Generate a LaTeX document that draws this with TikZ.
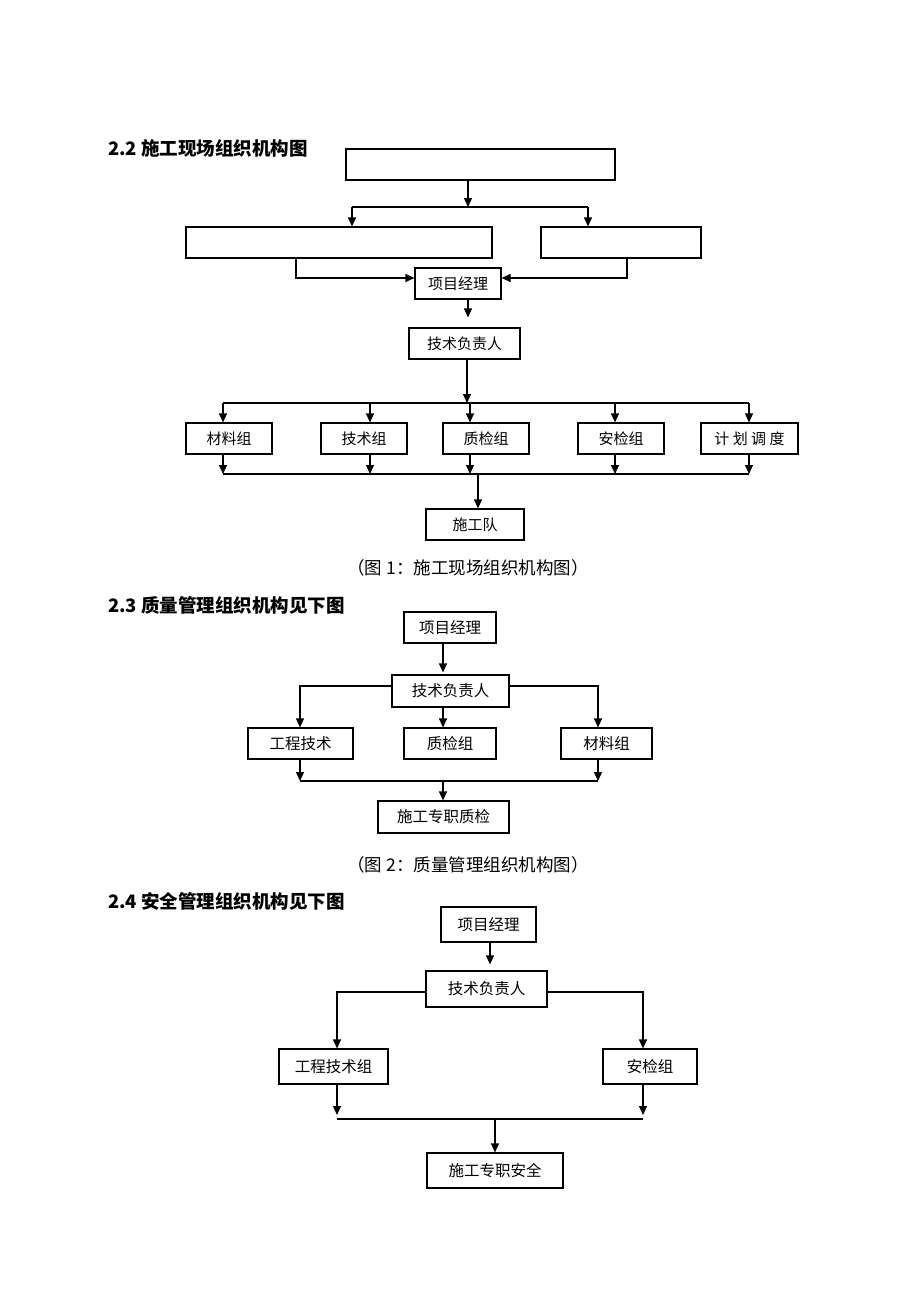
\documentclass[tikz,border=0pt]{standalone}
\usepackage{fontspec}
\setmainfont{Noto Sans CJK SC}
\usetikzlibrary{arrows.meta, calc, positioning}
\tikzset{>={Triangle[length=9pt,width=8pt]}}
\tikzset{
	box/.style={draw, line width=1.2pt, inner sep=0pt, minimum height=31, font=\fontsize{15.5}{18}\selectfont},
	link/.style={line width=1.2pt},
	arr/.style={line width=1.2pt, ->},
	heading/.style={anchor=west, inner sep=0pt, font=\bfseries\fontsize{18.5}{21}\selectfont},
	caption/.style={inner sep=0pt, font=\fontsize{17.5}{20}\selectfont}
}

\begin{document}
\begin{tikzpicture}[x=1pt, y=-1pt]
			\useasboundingbox (0,0) rectangle (920,1302);
			% 2.2
			\node [heading] (h1) at (108,148) {2.2 施工现场组织机构图};
			\node [box, minimum width=269] (top) at (480.5,164.5) {};
			\node [box, minimum width=306] (lbox) at (339,242.5) {};
			\node [box, minimum width=160] (rbox) at (621,242.5) {};
			\node [box, minimum width=86, font=\fontsize{15}{17}\selectfont] (pm1) at (458,283.5) {项目经理};
			\node [box, minimum width=111, font=\fontsize{15}{17}\selectfont] (tech1) at (464.5,343.5) {技术负责人};
			\coordinate (s1) at (468,207);
			\coordinate (s1l) at (352,207);
			\coordinate (s1r) at (588,207);
			\draw [arr] (s1 |- top.south) -- (s1);
			\draw [link] (s1l) -- (s1r);
			\draw [arr] (s1l) -- (s1l |- lbox.north);
			\draw [arr] (s1r) -- (s1r |- rbox.north);
			\coordinate (j1) at (296,278);
			\coordinate (j2) at (627,278);
			\draw [arr] (j1 |- lbox.south) -- (j1) -- (j1 -| pm1.west);
			\draw [arr] (j2 |- rbox.south) -- (j2) -- (j2 -| pm1.east);
			\draw [arr, shorten >=10pt] (pm1.south -| s1) -- (tech1.north -| s1);
			\node [box, minimum width=86, font=\fontsize{15}{17}\selectfont] (mat1) at (229,438.5) {材料组};
			\node [box, minimum width=86, font=\fontsize{15}{17}\selectfont] (tec1) at (364,438.5) {技术组};
			\node [box, minimum width=86, font=\fontsize{15}{17}\selectfont] (qc1) at (486,438.5) {质检组};
			\node [box, minimum width=86, font=\fontsize{15}{17}\selectfont] (safe1) at (621,438.5) {安检组};
			\node [box, minimum width=97, font=\fontsize{15}{17}\selectfont] (plan1) at (749.5,438.5) {计 划 调 度};
			\node [box, minimum width=98, font=\fontsize{15}{17}\selectfont] (team1) at (475,524.5) {施工队};
			\coordinate (r1) at (467,403);
			\coordinate (t1) at (223,403);
			\coordinate (t2) at (370,403);
			\coordinate (t3) at (470,403);
			\coordinate (t4) at (615,403);
			\coordinate (t5) at (749,403);
			\coordinate (b1) at (223,474);
			\coordinate (b5) at (749,474);
			\coordinate (d1) at (478,474);
			\draw [arr] (r1 |- tech1.south) -- (r1);
			\draw [link] (t1) -- (t5);
			\draw [arr] (t1) -- (t1 |- mat1.north);
			\draw [arr] (t2) -- (t2 |- tec1.north);
			\draw [arr] (t3) -- (t3 |- qc1.north);
			\draw [arr] (t4) -- (t4 |- safe1.north);
			\draw [arr] (t5) -- (t5 |- plan1.north);
			\draw [arr] (t1 |- mat1.south) -- (t1 |- b1);
			\draw [arr] (t2 |- tec1.south) -- (t2 |- b1);
			\draw [arr] (t3 |- qc1.south) -- (t3 |- b1);
			\draw [arr] (t4 |- safe1.south) -- (t4 |- b1);
			\draw [arr] (t5 |- plan1.south) -- (t5 |- b1);
			\draw [link] (b1) -- (b5);
			\draw [arr] (d1) -- (d1 |- team1.north);
			\node [caption] (cap1) at (468,568) {（图 1：施工现场组织机构图）};
			% 2.3
			\node [heading] (h2) at (108,605) {2.3 质量管理组织机构见下图};
			\node [box, minimum width=92] (pm2) at (450,627.5) {项目经理};
			\node [box, minimum width=117, minimum height=32] (tech2) at (450.5,691) {技术负责人};
			\node [box, minimum width=105] (eng2) at (300.5,743.5) {工程技术};
			\node [box, minimum width=92] (qc2) at (450,743.5) {质检组};
			\node [box, minimum width=91] (mat2) at (606.5,743.5) {材料组};
			\node [box, minimum width=131, minimum height=32] (zj2) at (443.5,817) {施工专职质检};
			\coordinate (u2) at (443,781);
			\coordinate (l2) at (300,686);
			\coordinate (r2) at (598,686);
			\coordinate (lb2) at (300,781);
			\coordinate (rb2) at (598,781);
			\draw [arr, shorten >=2pt] (pm2.south -| u2) -- (tech2.north -| u2);
			\draw [arr] (l2 -| tech2.west) -- (l2) -- (l2 |- eng2.north);
			\draw [arr] (r2 -| tech2.east) -- (r2) -- (r2 |- mat2.north);
			\draw [arr] (tech2.south -| u2) -- (qc2.north -| u2);
			\draw [arr] (lb2 |- eng2.south) -- (lb2);
			\draw [arr] (rb2 |- mat2.south) -- (rb2);
			\draw [link] (lb2) -- (rb2);
			\draw [arr] (u2) -- (u2 |- zj2.north);
			\node [caption] (cap2) at (468,865) {（图 2：质量管理组织机构图）};
			% 2.4
			\node [heading] (h3) at (108,901) {2.4 安全管理组织机构见下图};
			\node [box, minimum width=95, minimum height=35] (pm3) at (488.5,924.5) {项目经理};
			\node [box, minimum width=121, minimum height=36] (tech3) at (486.5,989) {技术负责人};
			\node [box, minimum width=109, minimum height=35] (eng3) at (333.5,1066.5) {工程技术组};
			\node [box, minimum width=94, minimum height=35] (safe3) at (650,1066.5) {安检组};
			\node [box, minimum width=136, minimum height=35] (zj3) at (495,1170.5) {施工专职安全};
			\coordinate (u3) at (490,965);
			\coordinate (l3) at (337,992);
			\coordinate (r3) at (643,992);
			\coordinate (lb3) at (337,1119);
			\coordinate (rb3) at (643,1119);
			\coordinate (d3) at (495,1119);
			\draw [arr, shorten >=6pt] (pm3.south -| u3) -- (tech3.north -| u3);
			\draw [arr] (l3 -| tech3.west) -- (l3) -- (l3 |- eng3.north);
			\draw [arr] (r3 -| tech3.east) -- (r3) -- (r3 |- safe3.north);
			\draw [arr, shorten >=4pt] (lb3 |- eng3.south) -- (lb3);
			\draw [arr, shorten >=4pt] (rb3 |- safe3.south) -- (rb3);
			\draw [link] (lb3) -- (rb3);
			\draw [arr] (d3) -- (d3 |- zj3.north);
		\end{tikzpicture}
\end{document}
